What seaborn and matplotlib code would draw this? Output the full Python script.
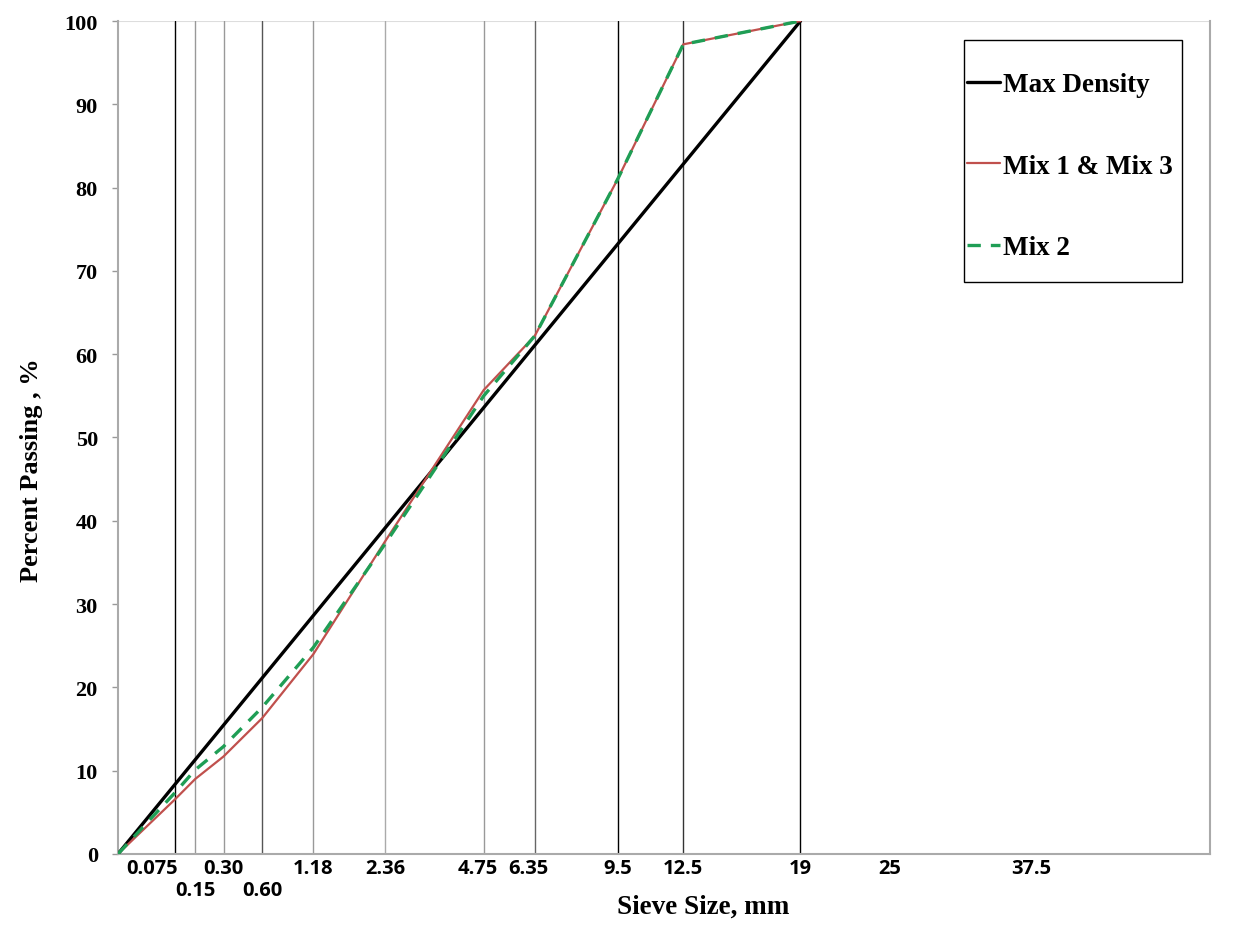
#Gradation chart on a 0.45 power scale: max density line vs mix gradations
import numpy as np
import pandas as pd
import seaborn as sns
from matplotlib import pyplot as plt
from matplotlib.patches import Rectangle
from matplotlib.transforms import ScaledTranslation

#sieve sizes (mm) and percent passing
sieves = [0, 0.075, 0.15, 0.30, 0.60, 1.18, 2.36, 4.75, 6.35, 9.5, 12.5, 19]
mix13 = [0, 6.5, 9.0, 11.7, 16.3, 24.0, 37.5, 55.7, 62.2, 81.0, 97.2, 100]
mix2 = [0, 7.3, 10.1, 12.9, 17.6, 24.8, 37.2, 55.0, 62.2, 81.0, 97.2, 100]
maxden_sizes = [0, 19]
maxden = [0, 100]

#tick labels on the x axis
tick_sizes = [0.075, 0.15, 0.30, 0.60, 1.18, 2.36, 4.75, 6.35, 9.5, 12.5, 19, 25, 37.5]
tick_labels = ['0.075', '0.15', '0.30', '0.60', '1.18', '2.36', '4.75', '6.35',
               '9.5', '12.5', '19', '25', '37.5']

#vertical sieve lines (dark or grey)
line_colors = ['black', '#999999', '#999999', '#555555', '#999999', '#aaaaaa',
               '#999999', '#666666', 'black', '#333333', 'black']

sns.set_style('white')
plt.rcParams['font.family'] = ['Liberation Serif', 'DejaVu Serif']
plt.rcParams['text.color'] = 'black'
plt.rcParams['xtick.color'] = 'black'
plt.rcParams['ytick.color'] = 'black'
plt.rcParams['axes.labelcolor'] = 'black'

df = pd.concat([
    pd.DataFrame({'size': maxden_sizes, 'pass': maxden, 'series': 'Max Density'}),
    pd.DataFrame({'size': sieves, 'pass': mix13, 'series': 'Mix 1 & Mix 3'}),
    pd.DataFrame({'size': sieves, 'pass': mix2, 'series': 'Mix 2'}),
])

fig = plt.figure(figsize=(12.34, 9.29), dpi=100)
ax = fig.add_axes([0.0956, 0.0797, 0.885, 0.8966])

#0.45 power scale
fwd = lambda x: np.sign(x) * np.abs(x) ** 0.45
inv = lambda x: np.sign(x) * np.abs(x) ** (1 / 0.45)
ax.set_xscale('function', functions=(fwd, inv))

for s, c in zip(sieves[1:], line_colors):
    ax.axvline(s, ymin=0, ymax=1, color=c, lw=1.0, zorder=1)
ax.axhline(100, color='#dddddd', lw=1.5, zorder=0)

styles = {
    'Max Density': dict(color='black', lw=2.4, ls='-'),
    'Mix 1 & Mix 3': dict(color='#c0504d', lw=1.6, ls='-'),
    'Mix 2': dict(color='#1f9e55', lw=2.4, ls=(0, (4, 3))),
}
for name, st in styles.items():
    d = df[df['series'] == name]
    sns.lineplot(data=d, x='size', y='pass', ax=ax, label=name, sort=False,
                 color=st['color'], lw=st['lw'], linestyle=st['ls'], zorder=3)

ax.set_xlim(0, 54)
ax.set_ylim(0, 100)
ax.set_yticks(range(0, 101, 10))
ax.set_yticklabels([str(v) for v in range(0, 101, 10)], fontsize=16, fontweight='bold')
ax.tick_params(axis='y', length=4.5, width=1, color='#999999', pad=10, left=True)

ax.set_xticks(tick_sizes)
ax.set_xticklabels(tick_labels, fontsize=14.5, fontweight='bold', family='Open Sans')
ax.tick_params(axis='x', length=0, pad=3)
for i, t in enumerate(ax.xaxis.get_major_ticks()):
    if tick_labels[i] in ('0.15', '0.60'):
        t.set_pad(19)
        t.tick1line.set_markersize(7)
        t.tick1line.set_color('#888888')
ax.xaxis.set_minor_locator(plt.NullLocator())

#a few labels sit a bit left of their sieve line in the original
shifts = {'0.075': -22, '4.75': -6, '6.35': -6, '37.5': -14}
for lab in ax.get_xticklabels():
    dx = shifts.get(lab.get_text(), 0)
    if dx:
        lab.set_transform(lab.get_transform() + ScaledTranslation(dx / 100, 0, fig.dpi_scale_trans))

for side in ['left', 'bottom', 'right']:
    ax.spines[side].set_color('#aaaaaa')
    ax.spines[side].set_linewidth(1.5)
ax.spines['top'].set_visible(False)

ax.set_xlabel('Sieve Size, mm', fontsize=19.5, fontweight='bold')
ax.xaxis.set_label_coords(0.536, -0.048)
ax.set_ylabel('Percent Passing , %', fontsize=19, fontweight='bold')
ax.yaxis.set_label_coords(-0.0685, 0.462)

#legend without its own frame, box drawn separately (tight sides, tall top/bottom)
leg = ax.legend(loc='upper left', bbox_to_anchor=(962 / 1234, 1 - 68 / 929),
                bbox_transform=fig.transFigure,
                prop={'weight': 'bold', 'size': 19.5}, handlelength=1.2, handletextpad=0.1,
                labelspacing=2.08, borderpad=0.2, frameon=False, borderaxespad=0)
fig.patches.append(Rectangle((964 / 1234, 1 - 283 / 929), 218 / 1234, 242 / 929,
                             transform=fig.transFigure, fill=False,
                             edgecolor='black', lw=1.0, zorder=5))

fig.savefig('out.png', dpi=100)
